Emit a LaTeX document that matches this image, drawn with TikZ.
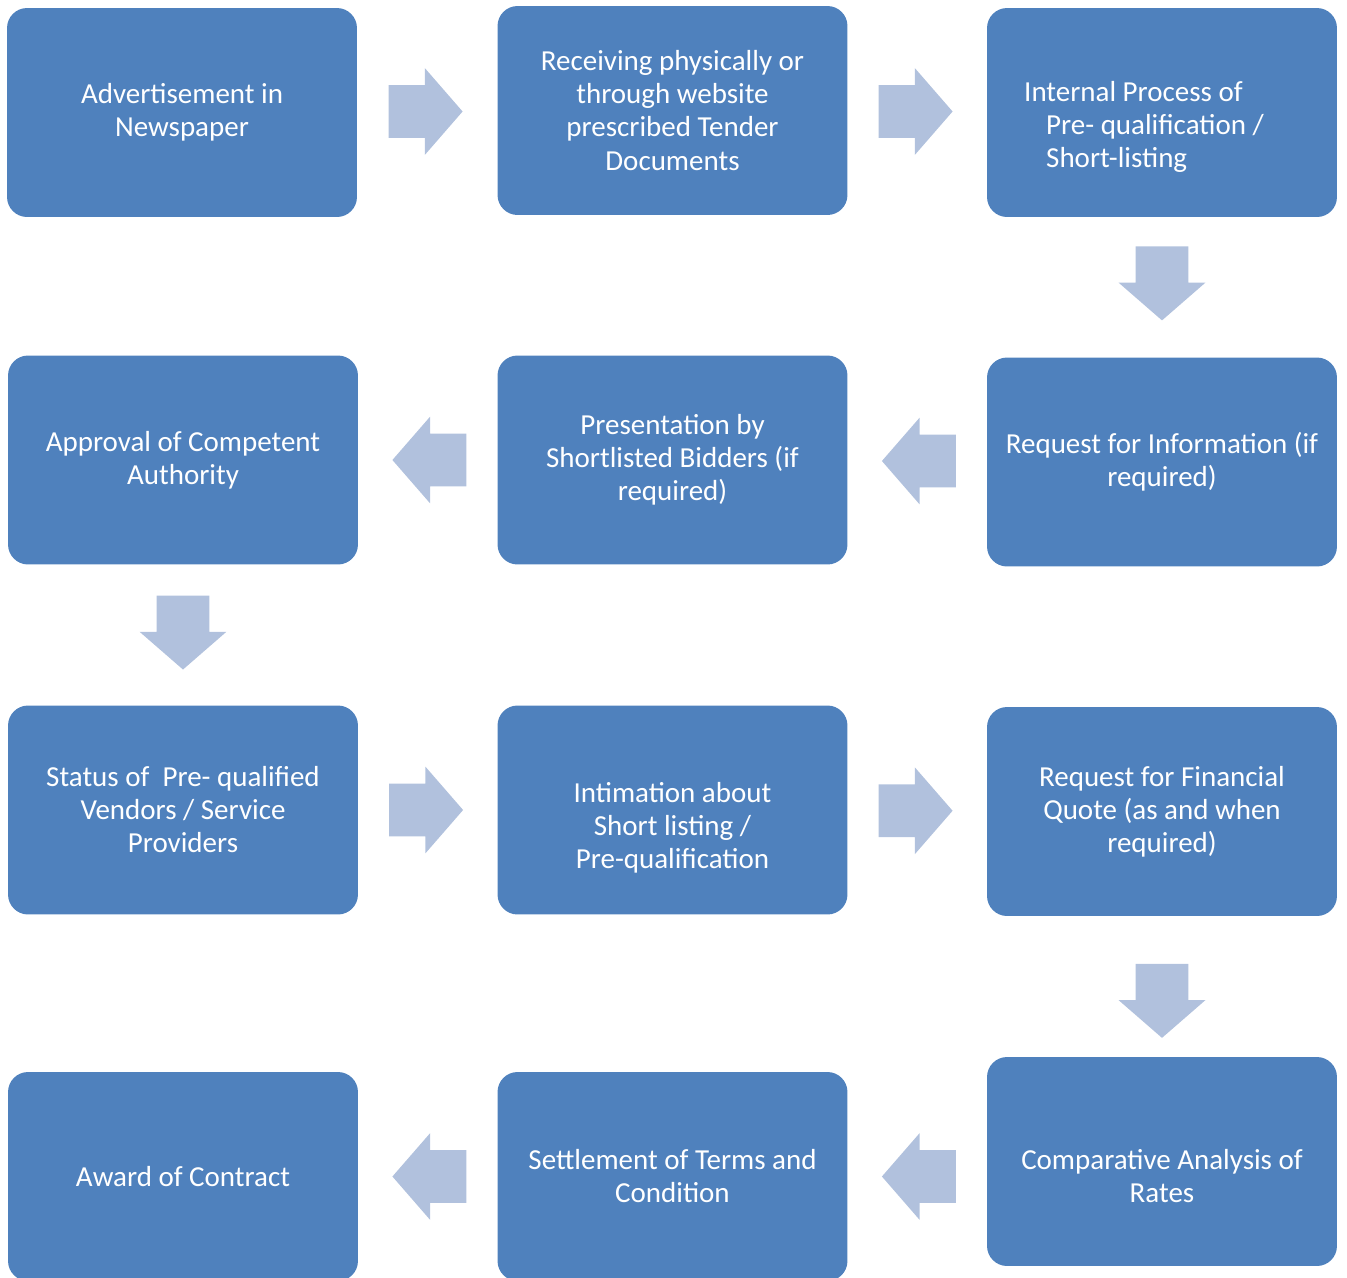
\documentclass[tikz,border=0pt]{standalone}
\usepackage{fontspec}
\setmainfont{Carlito}
\usetikzlibrary{shapes.arrows,calc}
\definecolor{boxblue}{HTML}{4F81BD}
\definecolor{arrowblue}{HTML}{B1C1DD}
\newcommand{\padtop}[1]{\rule{0pt}{#1}}

\begin{document}
\begin{tikzpicture}[x=0.02cm,y=-0.02cm,
  stage/.style={rectangle,rounded corners=0.4cm,fill=boxblue,text=white,
    minimum width=7cm,minimum height=4.18cm,inner sep=0pt,align=center,
    font=\fontsize{16.5pt}{18.8pt}\selectfont},
  flow/.style={single arrow,fill=arrowblue,draw=none,inner xsep=0pt,inner ysep=0.52cm,
    minimum height=1.48cm,minimum width=1.72cm,single arrow head extend=0.34cm,
    single arrow tip angle=98,single arrow head indent=0pt,anchor=tail}]
  \clip (0,0) rectangle (1347,1278);
  \node[stage] (advert) at (182,112.5) {Advertisement in\\Newspaper};
  \node[stage] (receive) at (672.5,110.5) {Receiving physically or\\through website\\prescribed Tender\\Documents};
  \node[stage,align=left] (internal) at (1162,112.5) {\padtop{27.5pt}Internal Process of\\\hspace*{0.44cm}Pre- qualification /\hspace*{0.72cm}\mbox{}\\\hspace*{0.44cm}Short-listing};
  \node[stage] (approval) at (183,460) {Approval of Competent\\Authority};
  \node[stage] (present) at (672.5,460) {Presentation by\\Shortlisted Bidders (if\\required)};
  \node[stage] (info) at (1162,462) {Request for Information (if\\required)};
  \node[stage] (status) at (183,810) {Status of~ Pre- qualified\\Vendors / Service\\Providers};
  \node[stage] (intimate) at (672.5,810) {\padtop{32pt}Intimation about\\Short listing /\\Pre-qualification};
  \node[stage] (quote) at (1162,811.5) {Request for Financial\\Quote (as and when\\required)};
  \node[stage] (award) at (183,1176.5) {Award of Contract};
  \node[stage] (settle) at (672.5,1176.5) {Settlement of Terms and\\Condition};
  \node[stage] (compare) at (1162,1161.5) {\padtop{27.5pt}Comparative Analysis of\\Rates};

  \node[flow] (f1) at ($(advert.east)!0.5!(receive.west)+(-39,0)$) {};
  \node[flow] (f2) at ($(receive.east)!0.5!(internal.west)+(-39,0)$) {};
  \node[flow,rotate=-90] (f3) at ($(internal.south)!0.47!(info.north)+(0,-37)$) {};
  \node[flow,rotate=180] (f4) at ($(info.west)!0.5!(present.east)+(39,0)$) {};
  \node[flow,rotate=180] (f5) at ($(present.west)!0.5!(approval.east)+(39,0)$) {};
  \node[flow,rotate=-90] (f6) at ($(approval.south)!0.48!(status.north)+(0,-37)$) {};
  \node[flow] (f7) at ($(status.east)!0.5!(intimate.west)+(-39,0)$) {};
  \node[flow] (f8) at ($(intimate.east)!0.5!(quote.west)+(-39,0)$) {};
  \node[flow,rotate=-90] (f9) at ($(quote.south)!0.6!(compare.north)+(0,-37)$) {};
  \node[flow,rotate=180] (f10) at ($(compare.west |- settle.east)!0.5!(settle.east)+(39,0)$) {};
  \node[flow,rotate=180] (f11) at ($(settle.west)!0.5!(award.east)+(39,0)$) {};
\end{tikzpicture}
\end{document}
